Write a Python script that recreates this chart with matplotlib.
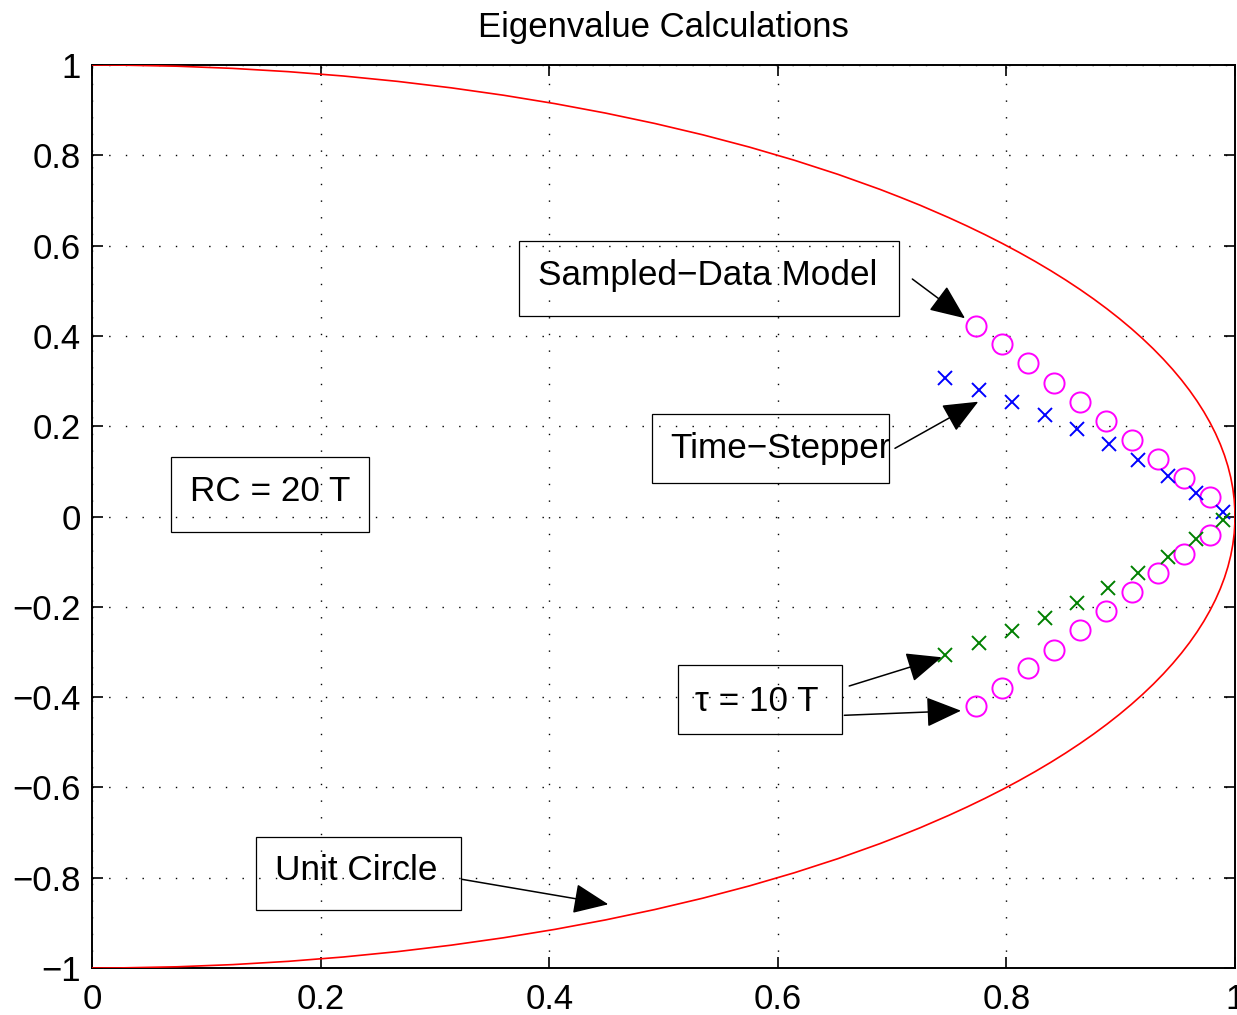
import matplotlib
matplotlib.use("Agg")
import matplotlib.pyplot as plt
from matplotlib.patches import Circle, Rectangle

plt.rcParams['font.family'] = ['Liberation Sans', 'DejaVu Sans']

# ---- data ----
title = "Eigenvalue Calculations"
x_ticks = [0, 0.2, 0.4, 0.6, 0.8, 1]
x_tick_labels = ["0", "0.2", "0.4", "0.6", "0.8", "1"]
y_ticks = [-1, -0.8, -0.6, -0.4, -0.2, 0, 0.2, 0.4, 0.6, 0.8, 1]
y_tick_labels = ["\u22121", "\u22120.8", "\u22120.6", "\u22120.4", "\u22120.2", "0",
                 "0.2", "0.4", "0.6", "0.8", "1"]

circle_center = (0.0, 0.0)
circle_radius = 1.0

# Sampled-data model eigenvalues (magenta circles), conjugate pairs
sd_re = [0.7734, 0.7962, 0.8189, 0.8416, 0.8644, 0.8871, 0.9099, 0.9326, 0.9554, 0.9781]
sd_im_pos = [0.4226, 0.3814, 0.3393, 0.2963, 0.2542, 0.2122, 0.1694, 0.1267, 0.0846, 0.0425]
sd_im_neg = [-0.4206, -0.3790, -0.3355, -0.2956, -0.2514, -0.2093, -0.1672, -0.1251, -0.0830, -0.0410]

# Time-stepper eigenvalues, upper (blue) and lower (green)
ts_up_re = [0.7463, 0.7757, 0.8052, 0.8338, 0.8620, 0.8895, 0.9154, 0.9411, 0.9659, 0.9898]
ts_up_im = [0.3061, 0.2802, 0.2543, 0.2248, 0.1931, 0.1606, 0.1251, 0.0897, 0.0527, 0.0106]
ts_lo_re = [0.7463, 0.7757, 0.8052, 0.8338, 0.8620, 0.8891, 0.9154, 0.9411, 0.9659, 0.9892]
ts_lo_im = [-0.3068, -0.2808, -0.2536, -0.2242, -0.1922, -0.1590, -0.1258, -0.0890, -0.0505, -0.0078]

# ---- figure ----
fig = plt.figure(figsize=(12.37, 10.15), dpi=100)
ax = fig.add_axes([92/1237, 1-968/1015, (1235-92)/1237, (968-65)/1015])

ax.add_patch(Circle(circle_center, circle_radius, fill=False, edgecolor='red', lw=1.2, zorder=3))

ax.plot(sd_re, sd_im_pos, 'o', mfc='none', mec=(1, 0, 1), ms=14.5, mew=1.4, zorder=4)
ax.plot(sd_re, sd_im_neg, 'o', mfc='none', mec=(1, 0, 1), ms=14.5, mew=1.4, zorder=4)
ax.plot(ts_up_re, ts_up_im, 'x', color=(0, 0, 1), ms=10.5, mew=1.4, zorder=4)
ax.plot(ts_lo_re, ts_lo_im, 'x', color=(0, 0.5, 0), ms=10.5, mew=1.4, zorder=4)

ax.set_xlim(0, 1)
ax.set_ylim(-1, 1)
ax.set_xticks(x_ticks)
ax.set_xticklabels(x_tick_labels)
ax.set_yticks(y_ticks)
ax.set_yticklabels(y_tick_labels)

ax.grid(True, color='black', linestyle=(0, (1, 11)), linewidth=1.0)
ax.set_axisbelow(True)
ax.tick_params(direction='in', length=8, width=1.2, top=True, right=True,
               labelsize=25, colors='black')
ax.tick_params(axis='x', pad=11)
ax.tick_params(axis='y', pad=8)
for s in ax.spines.values():
    s.set_linewidth(1.4)

ax.set_title(title, fontsize=25, pad=20)

# ---- annotation boxes ----
fs = 25.3
boxes = [
    # (x0, y0, x1, y1), text, text_x, text_baseline
    ((0.3736, 0.4441, 0.7060, 0.6102), "Sampled\u2212Data Model", 0.3902, 0.5127),
    ((0.4897, 0.0735, 0.6976, 0.2264), "Time\u2212Stepper", 0.5057, 0.1289),
    ((0.0691, -0.0343, 0.2423, 0.1318), "RC = 20 T", 0.0857, 0.0343),
    ((0.5124, -0.4817, 0.6559, -0.3289), "\u03c4 = 10 T", 0.5276, -0.4308),
    ((0.1435, -0.8715, 0.3228, -0.7099), "Unit Circle", 0.1601, -0.8051),
]
for (x0, y0, x1, y1), txt, tx, ty in boxes:
    ax.add_patch(Rectangle((x0, y0), x1 - x0, y1 - y0, fill=False,
                           edgecolor='black', lw=0.9, zorder=5))
    ax.text(tx, ty, txt, fontsize=fs, ha='left', va='baseline', zorder=6)

arrows = [
    ((0.7177, 0.526), (0.7638, 0.439)),
    ((0.7025, 0.151), (0.7754, 0.2543)),
    ((0.6625, -0.3754), (0.7434, -0.3118)),
    ((0.6582, -0.4403), (0.7603, -0.4301)),
    ((0.3235, -0.8035), (0.4517, -0.8589)),
]
for tail, tip in arrows:
    ax.annotate('', xy=tip, xytext=tail,
                arrowprops=dict(arrowstyle='-|>,head_length=1.05,head_width=0.45',
                                mutation_scale=21, color='black', lw=1.1,
                                shrinkA=0, shrinkB=0), zorder=6)

fig.savefig("out.png", dpi=100)
